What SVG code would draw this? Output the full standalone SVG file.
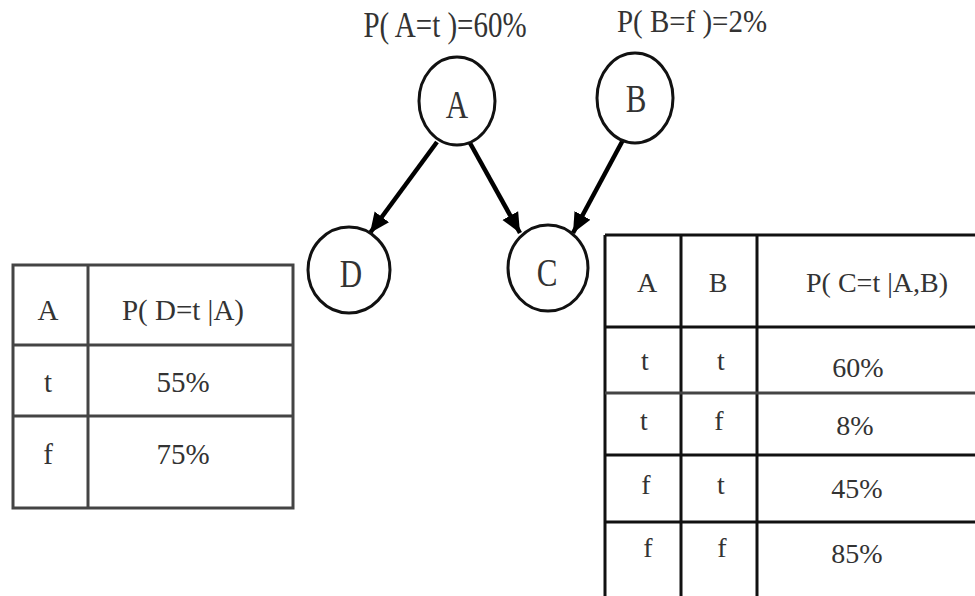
<svg xmlns="http://www.w3.org/2000/svg" width="975" height="596" viewBox="0 0 975 596">
<defs>
<style>
.t{font-family:"Liberation Serif","Times New Roman",serif;fill:#333;text-anchor:middle}
.n{fill:#fff;stroke:#111;stroke-width:3}
.e{stroke:#000;stroke-width:4.5;fill:none}
.gl{stroke:#444;stroke-width:3;fill:none}
.bl{stroke:#111;stroke-width:3;fill:none}
</style>
<marker id="ah" markerUnits="userSpaceOnUse" markerWidth="22" markerHeight="20" refX="20" refY="10" orient="auto">
<path d="M0,1 L20,10 L0,19 z" fill="#000"/>
</marker>
</defs>
<rect width="975" height="596" fill="#fff"/>
<g id="edges">
<line class="e" x1="437" y1="142" x2="370" y2="233" marker-end="url(#ah)"/>
<line class="e" x1="470" y1="143" x2="520" y2="233" marker-end="url(#ah)"/>
<line class="e" x1="623" y1="140" x2="573" y2="233" marker-end="url(#ah)"/>
</g>
<g id="labelA"><text class="t" font-size="29" transform="translate(445,37) scale(1,1.2)">P( A=t )=60%</text></g>
<g id="labelB"><text class="t" font-size="29" transform="translate(692,32) scale(1,1.12)">P( B=f )=2%</text></g>
<g id="nodeA"><ellipse class="n" cx="457" cy="101" rx="38" ry="44"/><text class="t" font-size="31" transform="translate(457,118) scale(1,1.3)">A</text></g>
<g id="nodeB"><ellipse class="n" cx="635" cy="98" rx="38" ry="45"/><text class="t" font-size="31" transform="translate(636,112) scale(1,1.3)">B</text></g>
<g id="nodeD"><ellipse class="n" cx="349" cy="270" rx="41" ry="43"/><text class="t" font-size="31" transform="translate(351,287) scale(1,1.3)">D</text></g>
<g id="nodeC"><ellipse class="n" cx="548" cy="268" rx="40" ry="43"/><text class="t" font-size="31" transform="translate(547,286) scale(1,1.3)">C</text></g>
<g id="tableD">
<rect class="gl" x="13" y="265" width="280" height="243"/>
<line class="gl" x1="88" y1="265" x2="88" y2="508"/>
<line class="gl" x1="13" y1="345" x2="293" y2="345"/>
<line class="gl" x1="13" y1="416" x2="293" y2="416"/>
<text class="t" font-size="29" x="48" y="320">A</text>
<text class="t" font-size="29" x="183" y="320">P( D=t |A)</text>
<text class="t" font-size="29" x="48" y="392">t</text>
<text class="t" font-size="29" x="183" y="392">55%</text>
<text class="t" font-size="29" x="48" y="464">f</text>
<text class="t" font-size="29" x="183" y="464">75%</text>
</g>
<g id="tableC">
<line class="bl" x1="605" y1="235" x2="975" y2="235"/>
<line class="bl" x1="605" y1="235" x2="605" y2="596"/>
<line class="bl" x1="681" y1="235" x2="681" y2="596"/>
<line class="bl" x1="757" y1="235" x2="757" y2="596"/>
<line class="bl" x1="605" y1="327" x2="975" y2="327"/>
<line class="gl" x1="605" y1="393" x2="975" y2="393"/>
<line class="bl" x1="605" y1="455" x2="975" y2="455"/>
<line class="bl" x1="605" y1="522" x2="975" y2="522"/>
<text class="t" font-size="28" x="647" y="292">A</text>
<text class="t" font-size="28" x="718" y="292">B</text>
<text class="t" font-size="28" x="877" y="292">P( C=t |A,B)</text>
<text class="t" font-size="28" x="645" y="370">t</text>
<text class="t" font-size="28" x="721" y="370">t</text>
<text class="t" font-size="28" x="858" y="377">60%</text>
<text class="t" font-size="28" x="644" y="430">t</text>
<text class="t" font-size="28" x="719" y="430">f</text>
<text class="t" font-size="28" x="855" y="435">8%</text>
<text class="t" font-size="28" x="646" y="494">f</text>
<text class="t" font-size="28" x="721" y="494">t</text>
<text class="t" font-size="28" x="857" y="498">45%</text>
<text class="t" font-size="28" x="648" y="557">f</text>
<text class="t" font-size="28" x="722" y="557">f</text>
<text class="t" font-size="28" x="857" y="563">85%</text>
</g>
</svg>
